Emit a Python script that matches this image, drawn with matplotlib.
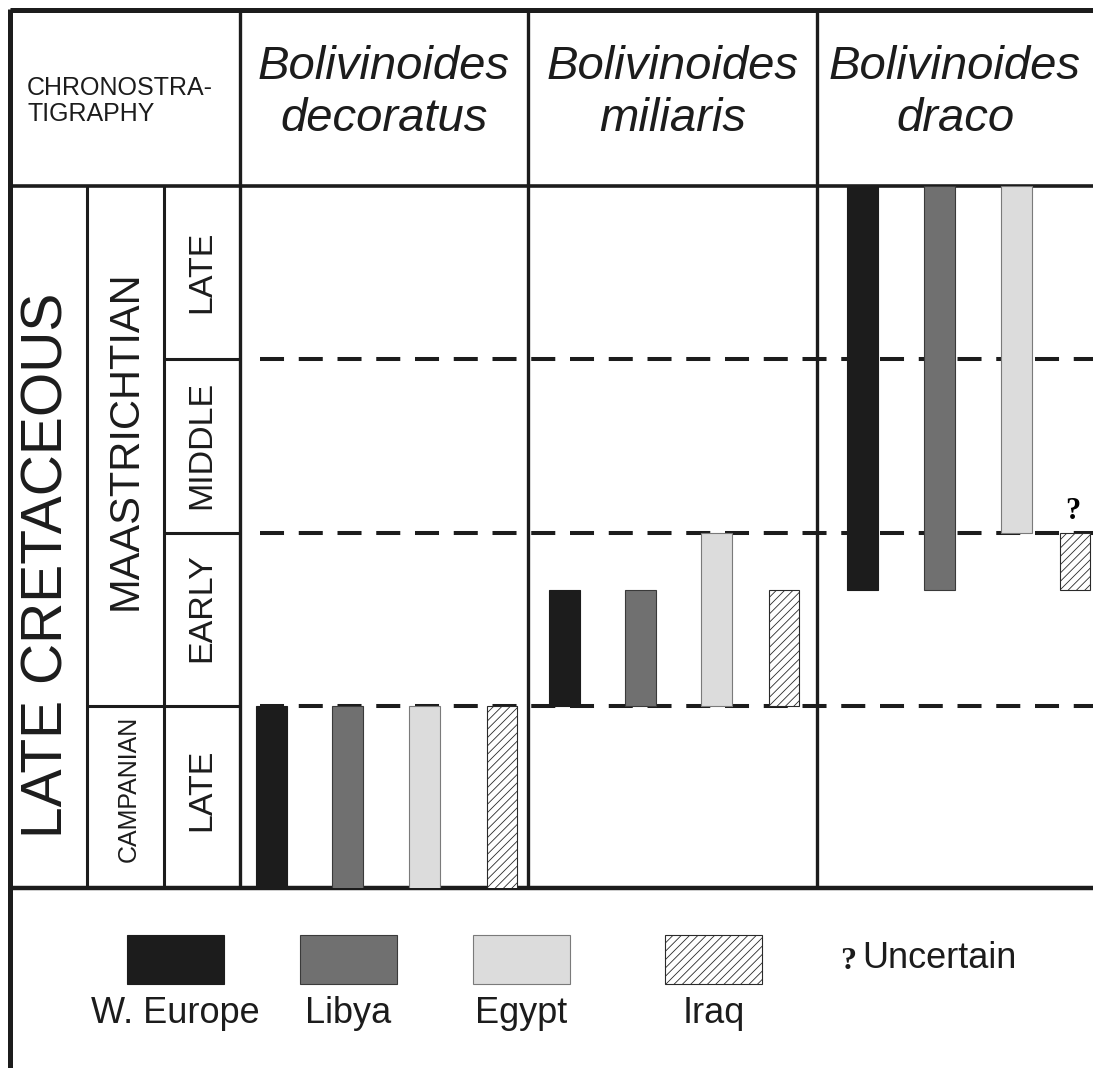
import numpy as np
import matplotlib
matplotlib.use('Agg')
import matplotlib.pyplot as plt
from matplotlib.patches import Rectangle

plt.rcParams['font.family'] = ['Liberation Sans', 'DejaVu Sans']
plt.rcParams['hatch.linewidth'] = 0.6
plt.rcParams['lines.scale_dashes'] = False

# ---- data ----
species = ['Bolivinoides\ndecoratus', 'Bolivinoides\nmiliaris', 'Bolivinoides\ndraco']
regions = ['W. Europe', 'Libya', 'Egypt', 'Iraq']
region_colors = ['#1c1c1c', '#707070', '#dcdcdc', 'white']
region_edges = ['#1c1c1c', '#3a3a3a', '#7a7a7a', '#2a2a2a']
region_hatch = [None, None, None, '////']

# strat units: 0 = base Late Campanian, 1 = base Maastrichtian,
# 2 = base Middle Maastr., 3 = base Late Maastr., 4 = top Maastrichtian
range_base = [[-1.0, -1.0, -1.0, -1.0],
              [1.0, 1.0, 1.0, 1.0],
              [1.67, 1.67, 2.0, 1.67]]
range_top = [[1.0, 1.0, 1.0, 1.0],
             [1.67, 1.67, 2.0, 1.67],
             [4.0, 4.0, 4.0, 2.0]]
uncertain = [(2, 3)]  # (species idx, region idx) with '?'

substage_bounds = [1, 2, 3]
substage_names = ['LATE', 'EARLY', 'MIDDLE', 'LATE']

# ---- layout (pixels) ----
W, H = 1093, 1068
col_x = [240, 528, 817]
sub_x = [87, 164]
top_y, head_y, body_y = 10, 186, 888
bar_x = [[271, 347.5, 424.5, 501.5],
         [564.5, 640, 716.5, 784],
         [862.5, 939, 1016, 1075]]
bar_w = [31, 31, 31, 30]

fig = plt.figure(figsize=(W / 100, H / 100), dpi=100)

# frame axes in pixel coordinates
ax0 = fig.add_axes([0, 0, 1, 1])
ax0.set_xlim(0, W)
ax0.set_ylim(H, 0)
ax0.axis('off')

# chart body axes: x in pixels, y in stratigraphic units
ax = fig.add_axes([0, (H - body_y) / H, 1, (body_y - head_y) / H])
ax.set_xlim(0, W)
ax.set_ylim(-0.05, 4.0)
ax.axis('off')
ax.patch.set_alpha(0)

# outer frame and grid
ax0.plot([10, W], [top_y, top_y], color='#1c1c1c', lw=3.6, solid_capstyle='butt')
ax0.plot([10, 10], [top_y - 1.5, H], color='#1c1c1c', lw=3.6, solid_capstyle='butt')
ax0.plot([10, W], [head_y, head_y], color='#1c1c1c', lw=2.6, solid_capstyle='butt')
ax0.plot([10, W], [body_y, body_y], color='#1c1c1c', lw=3.2, solid_capstyle='butt')
for x in col_x:
    ax0.plot([x, x], [top_y, body_y], color='#1c1c1c', lw=2.4, solid_capstyle='butt')
for x in sub_x:
    ax0.plot([x, x], [head_y, body_y], color='#1c1c1c', lw=2.2, solid_capstyle='butt')

# stage / substage boundaries
ax.hlines(substage_bounds, sub_x[1], col_x[0], color='#1c1c1c', lw=2.2)
ax.hlines([1], sub_x[0], sub_x[1], color='#1c1c1c', lw=2.2)
ax.hlines(substage_bounds, 260, W, color='#1c1c1c', lw=2.9,
          linestyles=[(0, (17.3, 10.6))], zorder=1)

# range bars
for i in range(len(species)):
    for j in range(len(regions)):
        b = range_base[i][j]
        t = range_top[i][j]
        ax.bar(bar_x[i][j], t - b, bottom=b, width=bar_w[j],
               color=region_colors[j], edgecolor=region_edges[j],
               linewidth=0.8, hatch=region_hatch[j], zorder=3)
for i, j in uncertain:
    ax.text(bar_x[i][j] - 2, range_top[i][j] + 0.04, '?', ha='center', va='bottom',
            fontsize=22, fontweight='bold', family='Liberation Serif', zorder=4)

# header
ax0.text(27, 101, 'CHRONOSTRA-\nTIGRAPHY', fontsize=18, ha='left', va='center',
         linespacing=1.15, color='#1c1c1c')
col_edges = col_x + [W]
for i, name in enumerate(species):
    cx = (col_edges[i] + col_edges[i + 1]) / 2
    ax0.text(cx, 93, name, fontsize=34, style='italic', ha='center', va='center',
             linespacing=1.25, color='#1c1c1c')

# chronostratigraphy labels
ax0.text(48, 565, 'LATE CRETACEOUS', rotation=90, fontsize=41, ha='center', va='center',
         color='#1c1c1c')
ax0.text(126, 440, 'MAASTRICHTIAN', rotation=90, fontsize=30, ha='center', va='center',
         color='#1c1c1c')
ax0.text(129, 789, 'CAMPANIAN', rotation=90, fontsize=18, ha='center', va='center',
         color='#1c1c1c')
sub_label_y = [790, 608, 445, 272]
for name, y in zip(substage_names, sub_label_y):
    ax0.text(202, y, name, rotation=90, fontsize=24.5, ha='center', va='center',
             color='#1c1c1c')

# legend
leg_x = [127, 300, 473, 665]
for j, name in enumerate(regions):
    ax0.add_patch(Rectangle((leg_x[j], 935), 97, 49, facecolor=region_colors[j],
                            edgecolor=region_edges[j], linewidth=0.8,
                            hatch=region_hatch[j]))
    ax0.text(leg_x[j] + 48.5, 1023, name, fontsize=26, ha='center', va='baseline',
             color='#1c1c1c')
ax0.text(848, 969, '?', fontsize=23, fontweight='bold', family='Liberation Serif',
         ha='center', va='baseline', color='#1c1c1c')
ax0.text(862, 968, 'Uncertain', fontsize=26, ha='left', va='baseline', color='#1c1c1c')

fig.savefig('out.png', dpi=100)
